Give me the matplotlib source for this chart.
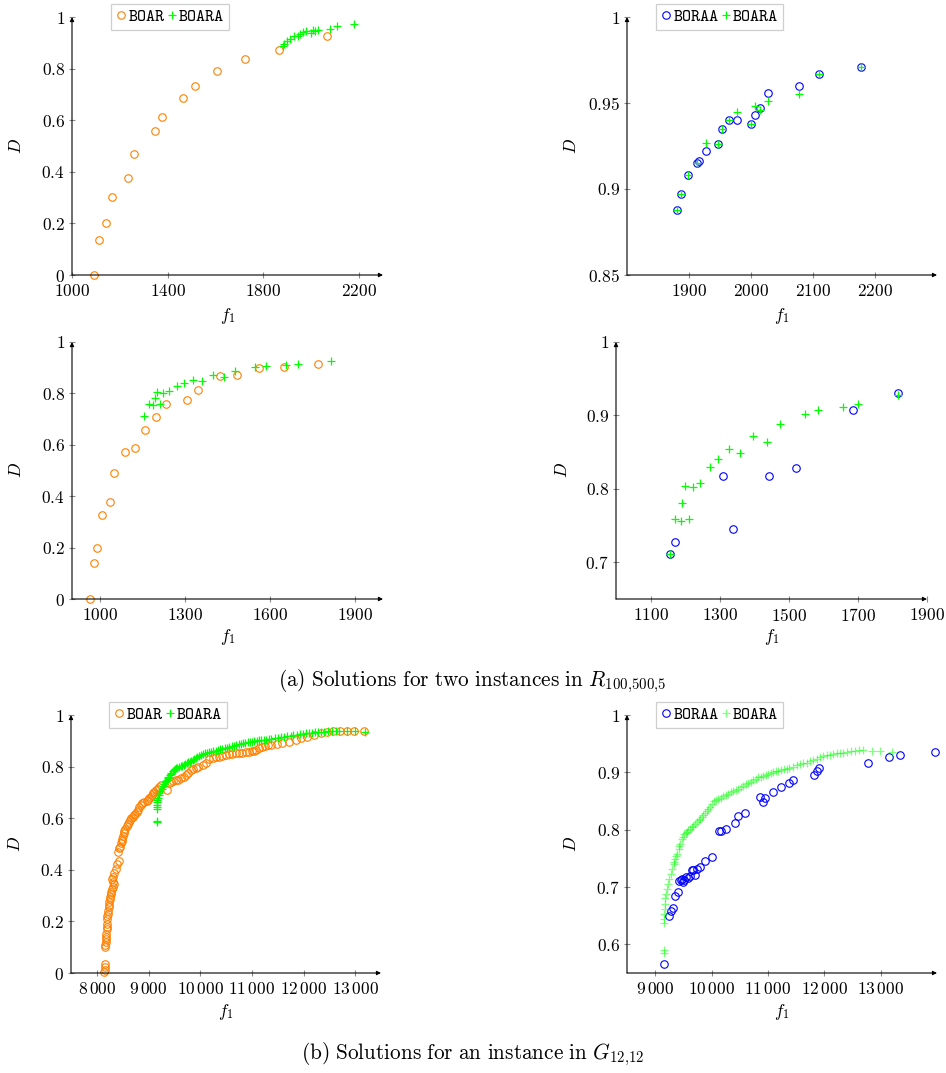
import matplotlib
matplotlib.use("Agg")
import matplotlib.pyplot as plt
from matplotlib.lines import Line2D

plt.rcParams['mathtext.fontset'] = 'cm'
plt.rcParams['font.family'] = 'cmr10'
plt.rcParams['axes.formatter.use_mathtext'] = True

# ---- data ----
# R_{100,500,5}, first instance
top_boar_f1 = [1092, 1111, 1141, 1167, 1234, 1261, 1347, 1376, 1463, 1514, 1605, 1723, 1866, 2064]
top_boar_d = [0.0, 0.134, 0.200, 0.304, 0.377, 0.469, 0.558, 0.611, 0.686, 0.731, 0.792, 0.838, 0.873, 0.928]
top_boara_f1 = [1881, 1887, 1899, 1913, 1928, 1946, 1953, 1965, 1978, 2000, 2006, 2014, 2027, 2078, 2109, 2178]
top_boara_d = [0.888, 0.897, 0.908, 0.915, 0.927, 0.926, 0.935, 0.940, 0.945, 0.938, 0.948, 0.946, 0.951, 0.955, 0.967, 0.971]
top_boraa_f1 = [1881, 1887, 1899, 1913, 1916, 1928, 1946, 1953, 1965, 1978, 2000, 2007, 2014, 2027, 2078, 2109, 2178]
top_boraa_d = [0.888, 0.897, 0.908, 0.915, 0.916, 0.922, 0.926, 0.935, 0.940, 0.940, 0.938, 0.943, 0.947, 0.956, 0.960, 0.967, 0.971]

# R_{100,500,5}, second instance
mid_boar_f1 = [962, 979, 989, 1005, 1036, 1050, 1088, 1122, 1158, 1196, 1234, 1308, 1347, 1422, 1484, 1561, 1649, 1770]
mid_boar_d = [0.0, 0.141, 0.200, 0.326, 0.379, 0.489, 0.572, 0.589, 0.658, 0.707, 0.760, 0.776, 0.815, 0.868, 0.873, 0.900, 0.903, 0.913]
mid_boara_f1 = [1156, 1171, 1187, 1192, 1201, 1212, 1223, 1242, 1272, 1295, 1327, 1360, 1397, 1438, 1475, 1546, 1586, 1658, 1699, 1816]
mid_boara_d = [0.711, 0.759, 0.756, 0.781, 0.804, 0.759, 0.802, 0.808, 0.830, 0.840, 0.854, 0.849, 0.872, 0.864, 0.888, 0.902, 0.907, 0.911, 0.916, 0.928]
mid_boraa_f1 = [1156, 1172, 1311, 1339, 1443, 1521, 1686, 1816]
mid_boraa_d = [0.711, 0.728, 0.818, 0.745, 0.818, 0.828, 0.908, 0.931]

# G_{12,12}
grid_boar_f1 = [8148, 8150, 8152, 8150, 8167, 8160, 8180, 8182, 8175, 8185, 8188, 8190, 8192, 8196, 8200,
                8212, 8220, 8232, 8238, 8245, 8250, 8257, 8270, 8283, 8295, 8309, 8322, 8330, 8309, 8300,
                8341, 8373, 8399, 8425, 8412, 8438, 8455, 8470, 8480, 8489, 8505, 8521, 8535,
                8553, 8575, 8598, 8620, 8644, 8670, 8695, 8720, 8746, 8770, 8792, 8824, 8850, 8875,
                8920, 8965, 8990, 9017, 9040, 9068, 9090, 9113, 9150, 9178, 9210,
                9242, 9351, 9400, 9435, 9480, 9532, 9580, 9628, 9680, 9725, 9770, 9821, 9870, 9918,
                9960, 10046, 10110, 10175, 10240, 10304, 10370, 10432, 10500, 10561, 10625,
                10690, 10750, 10818, 10880, 10947, 11000, 11044, 11090, 11140, 11200, 11256, 11310,
                11365, 11494, 11591, 11719, 11848, 11945,
                12073, 12202, 12331, 12447, 12575, 12704, 12839, 12987, 13167]
grid_boar_d = [0.004, 0.012, 0.022, 0.035, 0.100, 0.110, 0.120, 0.133, 0.140, 0.153, 0.172, 0.180, 0.190, 0.210, 0.220,
               0.230, 0.240, 0.256, 0.265, 0.276, 0.285, 0.295, 0.305, 0.314, 0.325, 0.334, 0.353, 0.345, 0.373, 0.365,
               0.386, 0.405, 0.424, 0.433, 0.470, 0.483, 0.490, 0.502, 0.510, 0.521, 0.530, 0.541, 0.550,
               0.560, 0.568, 0.576, 0.585, 0.592, 0.600, 0.605, 0.612, 0.618, 0.625, 0.631, 0.644, 0.650, 0.657,
               0.664, 0.666, 0.672, 0.677, 0.684, 0.690, 0.696, 0.702, 0.708, 0.715, 0.722,
               0.728, 0.711, 0.735, 0.741, 0.745, 0.748, 0.750, 0.754, 0.760, 0.767, 0.775, 0.787, 0.790, 0.793,
               0.800, 0.806, 0.815, 0.828, 0.832, 0.836, 0.838, 0.841, 0.844, 0.847, 0.849,
               0.851, 0.852, 0.854, 0.856, 0.858, 0.860, 0.862, 0.866, 0.871, 0.876, 0.880, 0.882,
               0.884, 0.887, 0.893, 0.896, 0.903, 0.909,
               0.916, 0.922, 0.929, 0.934, 0.938, 0.938, 0.939, 0.939, 0.938]
grid_boara_f1 = [9160, 9160, 9162, 9163, 9165, 9167, 9170, 9183, 9195, 9207, 9230, 9254, 9284, 9307, 9325,
                 9330, 9354, 9370, 9384, 9414, 9430, 9443, 9473, 9490, 9514, 9540, 9561, 9590, 9620, 9650,
                 9679, 9710, 9739, 9770, 9798, 9830, 9857, 9890, 9916, 9945, 9975, 10010,
                 10046, 10085, 10123, 10165, 10211, 10255, 10300, 10345, 10388, 10430, 10477, 10520,
                 10566, 10610, 10654, 10700, 10743, 10790, 10832, 10875, 10920, 10965, 11009, 11050,
                 11097, 11140, 11186, 11230, 11280, 11330, 11380, 11452, 11510, 11570, 11630, 11688,
                 11750, 11806, 11865, 11924, 11985, 12042, 12100, 12160, 12220, 12278, 12340,
                 12397, 12470, 12545, 12620, 12692, 12840, 12988, 13194]
grid_boara_d = [0.585, 0.590, 0.637, 0.645, 0.653, 0.662, 0.671, 0.680, 0.688, 0.697, 0.706, 0.714, 0.723, 0.732, 0.740,
                0.744, 0.749, 0.754, 0.758, 0.767, 0.771, 0.775, 0.784, 0.788, 0.792, 0.794, 0.796, 0.799, 0.801, 0.804,
                0.807, 0.810, 0.813, 0.816, 0.819, 0.822, 0.825, 0.829, 0.832, 0.836, 0.840, 0.845,
                0.850, 0.852, 0.854, 0.856, 0.858, 0.860, 0.862, 0.865, 0.867, 0.869, 0.871, 0.874,
                0.877, 0.879, 0.881, 0.884, 0.886, 0.889, 0.891, 0.892, 0.894, 0.896, 0.897, 0.899,
                0.901, 0.902, 0.903, 0.904, 0.905, 0.906, 0.907, 0.909, 0.912, 0.915, 0.916, 0.917,
                0.920, 0.922, 0.924, 0.926, 0.928, 0.930, 0.931, 0.932, 0.933, 0.934, 0.934,
                0.935, 0.937, 0.938, 0.939, 0.939, 0.937, 0.938, 0.936]
grid_boraa_f1 = [9160, 9242, 9278, 9313, 9349, 9396, 9431, 9455, 9479, 9502, 9520, 9549, 9591, 9620,
                 9650, 9679, 9709, 9738, 9798, 9886, 10016, 10134, 10164, 10253, 10424, 10477, 10589,
                 10861, 10914, 10950, 11097, 11233, 11381, 11452, 11819, 11865, 11913, 12769, 13147,
                 13348, 13969]
grid_boraa_d = [0.565, 0.649, 0.659, 0.663, 0.684, 0.692, 0.710, 0.713, 0.714, 0.709, 0.713, 0.717, 0.716, 0.719,
                0.729, 0.730, 0.721, 0.732, 0.735, 0.745, 0.753, 0.797, 0.798, 0.801, 0.812, 0.823, 0.829,
                0.857, 0.848, 0.855, 0.866, 0.874, 0.881, 0.887, 0.895, 0.903, 0.908, 0.916, 0.926,
                0.931, 0.936]

ORANGE = '#ff8000'
GREEN = '#00ff00'
BLUE = '#0000ff'
W, H = 946, 1073

fig = plt.figure(figsize=(W / 100, H / 100), dpi=100)


def box(x0, x1, y0, y1):
    return [x0 / W, 1 - y1 / H, (x1 - x0) / W, (y1 - y0) / H]


def circle_kw(color):
    return dict(ls='none', marker='o', mfc='none', mec=color, ms=5.4, mew=0.8)


def cross_kw(color, alpha=1.0):
    return dict(ls='none', marker='+', color=color, ms=5.5, mew=0.9, alpha=alpha)


def style(ax, xlim, ylim, xticks, xlabels, yticks, ylabels, dx, fy):
    ax.set_xlim(*xlim)
    ax.set_ylim(*ylim)
    ax.set_xticks(xticks)
    ax.set_xticklabels(xlabels)
    ax.set_yticks(yticks)
    ax.set_yticklabels(ylabels)
    for s in ax.spines.values():
        s.set_visible(False)
    ax.tick_params(direction='inout', length=5, width=0.8, color='#8c8c8c', labelsize=12.5)
    ax.tick_params(axis='x', pad=3.5)
    ax.tick_params(axis='y', pad=2.5)
    arrow = dict(arrowstyle='-|>', lw=0.8, color='k', mutation_scale=6, shrinkA=0, shrinkB=0)
    ax.annotate('', xy=(1, 0), xytext=(0, 0), xycoords='axes fraction', arrowprops=arrow)
    ax.annotate('', xy=(0, 1), xytext=(0, 0), xycoords='axes fraction', arrowprops=arrow)
    ax.set_xlabel('$f_1$', fontsize=12.5)
    ax.set_ylabel('$D$', fontsize=12.5)
    ax.xaxis.set_label_coords(0.5, fy)
    ax.yaxis.set_label_coords(dx, 0.5)


def add_legend(ax, first, second, labels, x0, y0):
    handles = [Line2D([], [], **first), Line2D([], [], **second)]
    leg = ax.legend(handles, labels, loc='upper left', bbox_to_anchor=(x0 / W, 1 - y0 / H),
                    bbox_transform=fig.transFigure, ncol=2, frameon=True, fancybox=False,
                    edgecolor='#c4c4c4', handlelength=0.6, handletextpad=0.1, columnspacing=0.15,
                    borderpad=0.3, borderaxespad=0, prop={'family': 'cmtt10', 'size': 12.4})
    leg.get_frame().set_linewidth(0.9)


def m(v):
    return ['$%s$' % s for s in v]


# panel 1
ax1 = fig.add_axes(box(72, 383, 17, 275))
ax1.plot(top_boar_f1, top_boar_d, clip_on=False, **circle_kw(ORANGE))
ax1.plot(top_boara_f1, top_boara_d, clip_on=False, **cross_kw(GREEN))
style(ax1, (1000, 2300), (0, 1), [1000, 1400, 1800, 2200], m(['1000', '1400', '1800', '2200']),
      [0, 0.2, 0.4, 0.6, 0.8, 1], m(['0', '0.2', '0.4', '0.6', '0.8', '1']), -0.155, -0.122)
add_legend(ax1, circle_kw(ORANGE), cross_kw(GREEN), ['BOAR', 'BOARA'], 111, 4)

# panel 2
ax2 = fig.add_axes(box(627, 937, 17, 275))
ax2.plot(top_boraa_f1, top_boraa_d, clip_on=False, **circle_kw(BLUE))
ax2.plot(top_boara_f1, top_boara_d, clip_on=False, **cross_kw(GREEN))
style(ax2, (1800, 2300), (0.85, 1), [1900, 2000, 2100, 2200], m(['1900', '2000', '2100', '2200']),
      [0.85, 0.9, 0.95, 1], m(['0.85', '0.9', '0.95', '1']), -0.155, -0.122)
add_legend(ax2, circle_kw(BLUE), cross_kw(GREEN), ['BORAA', 'BOARA'], 656, 4)

# panel 3
ax3 = fig.add_axes(box(72, 383, 342, 599))
ax3.plot(mid_boar_f1, mid_boar_d, clip_on=False, **circle_kw(ORANGE))
ax3.plot(mid_boara_f1, mid_boara_d, clip_on=False, **cross_kw(GREEN))
style(ax3, (900, 2000), (0, 1), [1000, 1300, 1600, 1900], m(['1000', '1300', '1600', '1900']),
      [0, 0.2, 0.4, 0.6, 0.8, 1], m(['0', '0.2', '0.4', '0.6', '0.8', '1']), -0.155, -0.11)

# panel 4
ax4 = fig.add_axes(box(616, 927, 342, 599))
ax4.plot(mid_boraa_f1, mid_boraa_d, clip_on=False, **circle_kw(BLUE))
ax4.plot(mid_boara_f1, mid_boara_d, clip_on=False, **cross_kw(GREEN))
style(ax4, (1000, 1900), (0.65, 1), [1100, 1300, 1500, 1700, 1900],
      m(['1100', '1300', '1500', '1700', '1900']),
      [0.7, 0.8, 0.9, 1], m(['0.7', '0.8', '0.9', '1']), -0.148, -0.11)

# panel 5
ax5 = fig.add_axes(box(71, 381, 715, 973))
ax5.plot(grid_boar_f1, grid_boar_d, clip_on=False, **circle_kw(ORANGE))
ax5.plot(grid_boara_f1, grid_boara_d, clip_on=False, **cross_kw(GREEN))
style(ax5, (7500, 13500), (0, 1), [8000, 9000, 10000, 11000, 12000, 13000],
      m([r'8\,000', r'9\,000', r'10\,000', r'11\,000', r'12\,000', r'13\,000']),
      [0, 0.2, 0.4, 0.6, 0.8, 1], m(['0', '0.2', '0.4', '0.6', '0.8', '1']), -0.155, -0.112)
add_legend(ax5, circle_kw(ORANGE), cross_kw(GREEN), ['BOAR', 'BOARA'], 109, 702)

# panel 6
ax6 = fig.add_axes(box(627, 937, 715, 973))
ax6.plot(grid_boraa_f1, grid_boraa_d, clip_on=False, **circle_kw(BLUE))
ax6.plot(grid_boara_f1, grid_boara_d, clip_on=False, **cross_kw(GREEN, 0.5))
style(ax6, (8500, 14000), (0.55, 1), [9000, 10000, 11000, 12000, 13000],
      m([r'9\,000', r'10\,000', r'11\,000', r'12\,000', r'13\,000']),
      [0.6, 0.7, 0.8, 0.9, 1], m(['0.6', '0.7', '0.8', '0.9', '1']), -0.155, -0.112)
add_legend(ax6, circle_kw(BLUE), cross_kw(GREEN, 0.5), ['BORAA', 'BOARA'], 656, 702)

fig.text(472 / W, 1 - 681 / H,
         r'$\mathrm{(a)\ Solutions\ for\ two\ instances\ in\ }R_{100{,}500{,}5}$',
         ha='center', va='center', fontsize=15.3)
fig.text(473 / W, 1 - 1054 / H,
         r'$\mathrm{(b)\ Solutions\ for\ an\ instance\ in\ }G_{12{,}12}$',
         ha='center', va='center', fontsize=15.3)

fig.savefig('out.png', dpi=100)
